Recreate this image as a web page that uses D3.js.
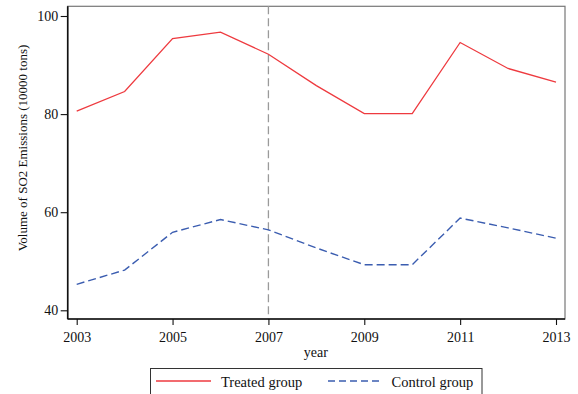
<!DOCTYPE html>
<html>
<head>
<meta charset="utf-8">
<script src="https://cdn.jsdelivr.net/npm/d3@7"></script>
<style>
  html, body { margin: 0; padding: 0; background: #fff; }
  svg { display: block; font-family: "Liberation Serif", "Times New Roman", serif; }
</style>
</head>
<body>
<svg id="chart" width="578" height="394"></svg>
<script>
// SO2 emissions, treated vs. control regions, 2003–2013
const years = [2003, 2004, 2005, 2006, 2007, 2008, 2009, 2010, 2011, 2012, 2013];
const treated = [80.6, 84.6, 95.4, 96.7, 92.2, 85.8, 80.1, 80.1, 94.6, 89.3, 86.5];
const control = [45.3, 48.2, 55.9, 58.5, 56.4, 52.7, 49.3, 49.3, 58.8, 56.8, 54.7];
const xTicks = [2003, 2005, 2007, 2009, 2011, 2013];
const yTicks = [40, 60, 80, 100];
const policyYear = 2007;
const seriesNames = ["Treated group", "Control group"];

const svg = d3.select("#chart");
const frame = { left: 67.7, right: 565, top: 6.3, bottom: 319 };

const x = d3.scaleLinear().domain([2003, 2013]).range([76.7, 556]);
const y = d3.scaleLinear().domain([40, 100]).range([310.3, 16]);

// plot frame: light top/right edges
svg.append("rect")
  .attr("x", frame.left).attr("y", frame.top)
  .attr("width", frame.right - frame.left).attr("height", frame.bottom - frame.top)
  .attr("fill", "none").attr("stroke", "#777").attr("stroke-width", 1.2);

// policy year reference line
svg.append("line")
  .attr("x1", x(policyYear)).attr("x2", x(policyYear))
  .attr("y1", frame.top).attr("y2", frame.bottom)
  .attr("stroke", "#9a9a9a").attr("stroke-width", 1.3)
  .attr("stroke-dasharray", "8,4");

const line = d3.line().x((d, i) => x(years[i])).y(d => y(d));

svg.append("path").datum(treated)
  .attr("d", line).attr("fill", "none")
  .attr("stroke", "#ee3a3f").attr("stroke-width", 1.3);

svg.append("path").datum(control)
  .attr("d", line).attr("fill", "none")
  .attr("stroke", "#3b5db0").attr("stroke-width", 1.4)
  .attr("stroke-dasharray", "8,4");

// axes
const xAxis = d3.axisBottom(x).tickValues(xTicks).tickFormat(d3.format("d"))
  .tickSize(6).tickPadding(6.6);
const yAxis = d3.axisLeft(y).tickValues(yTicks).tickSize(7).tickPadding(2.5);

const gx = svg.append("g").attr("transform", `translate(0,${frame.bottom})`).call(xAxis);
gx.select(".domain").attr("d", `M${frame.left},0H${frame.right}`);
const gy = svg.append("g").attr("transform", `translate(${frame.left},0)`).call(yAxis);
gy.select(".domain").attr("d", `M0,${frame.bottom}V${frame.top}`);

[gx, gy].forEach(g => {
  g.select(".domain").attr("stroke", "#111").attr("stroke-width", 1.6);
  g.selectAll(".tick line").attr("stroke", "#111").attr("stroke-width", 1.1);
  g.selectAll(".tick text")
    .attr("fill", "#111")
    .style("font-family", "Liberation Serif, Times New Roman, serif")
    .style("font-size", "14px");
});

// axis titles
svg.append("text")
  .attr("x", (frame.left + frame.right) / 2 - 0.5).attr("y", 357)
  .attr("text-anchor", "middle").attr("font-size", 14).attr("fill", "#111")
  .text("year");

svg.append("text")
  .attr("transform", "translate(27,148) rotate(-90)")
  .attr("text-anchor", "middle").attr("font-size", 13).attr("fill", "#111")
  .text("Volume of SO2 Emissions (10000 tons)");

// legend
const legend = svg.append("g");
legend.append("rect")
  .attr("x", 150.5).attr("y", 368.5).attr("width", 331.5).attr("height", 30)
  .attr("fill", "#fff").attr("stroke", "#333").attr("stroke-width", 1);

const legendItems = [
  { name: seriesNames[0], color: "#ee3a3f", dash: null, x0: 156, x1: 211, tx: 221 },
  { name: seriesNames[1], color: "#3b5db0", dash: "7,4", x0: 328, x1: 382, tx: 391.5 }
];
legendItems.forEach(it => {
  legend.append("line")
    .attr("x1", it.x0).attr("x2", it.x1).attr("y1", 381).attr("y2", 381)
    .attr("stroke", it.color).attr("stroke-width", 1.3)
    .attr("stroke-dasharray", it.dash);
  legend.append("text")
    .attr("x", it.tx).attr("y", 386.5)
    .attr("font-size", 14.5).attr("fill", "#111")
    .text(it.name);
});
</script>
</body>
</html>
